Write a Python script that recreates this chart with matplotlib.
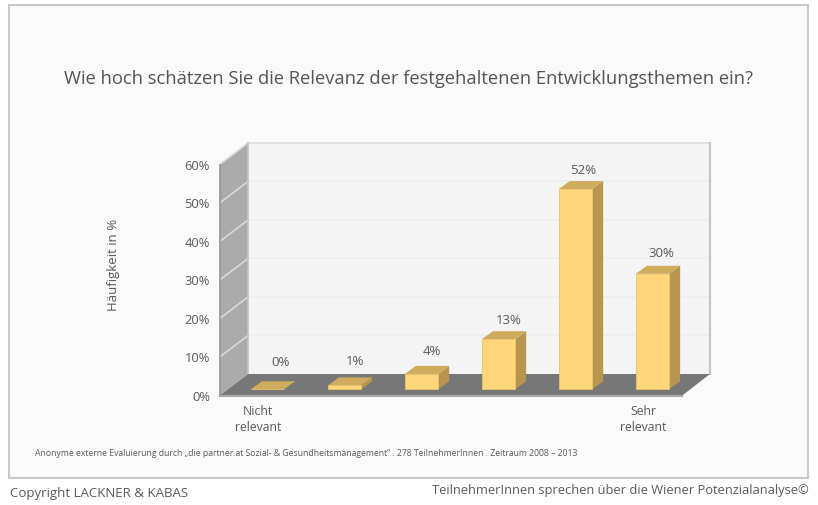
# 3D looking column chart, drawn with plain matplotlib patches
import matplotlib.pyplot as plt
from matplotlib.patches import Rectangle

plt.rcParams['font.family'] = ['Open Sans', 'DejaVu Sans']

# data
categories = ["Nicht\nrelevant", "", "", "", "", "Sehr\nrelevant"]
values = [0, 1, 4, 13, 52, 30]
value_labels = ["0%", "1%", "4%", "13%", "52%", "30%"]
y_ticks = [0, 10, 20, 30, 40, 50, 60]
y_tick_labels = ["0%", "10%", "20%", "30%", "40%", "50%", "60%"]

title = "Wie hoch schätzen Sie die Relevanz der festgehaltenen Entwicklungsthemen ein?"
y_title = "Häufigkeit in %"
note = ("Anonyme externe Evaluierung durch „die partner.at Sozial- & Gesundheitsmanagement“ . "
        "278 TeilnehmerInnen . Zeitraum 2008 – 2013")
copyright_text = "Copyright LACKNER & KABAS"
slogan = "TeilnehmerInnen sprechen über die Wiener Potenzialanalyse©"

TEXT = "#5A5A5A"
BAR_FRONT = "#FFD679"
BAR_SIDE = "#B8964F"
BAR_TOP = "#CFAB5C"

# the value labels are not placed evenly in the original (pixels from bar centre / bar top)
label_dx = [13.5, 10.5, 10, 10, 8, 9]
label_dy = [27, 23.5, 22, 19, 19, 20.7]

fig = plt.figure(figsize=(8.18, 5.05), dpi=100, facecolor="white")

# outer panel
fig.add_artist(Rectangle((8.5 / 818, 1 - 477.5 / 505), 799.5 / 818, 472.5 / 505,
                         transform=fig.transFigure, facecolor="#FAFAFA",
                         edgecolor="#C9C9C9", linewidth=1.5, zorder=-1))

# axes fills the figure, x = category number, y = percent
ax = fig.add_axes([0, 0, 1, 1])
ax.set_xlim(-267.5 / 77, 550.5 / 77)
ax.set_ylim(-30.05, 101.1)
ax.axis("off")

# wall corners in axis units
x_front, x_back = -0.623, -0.253
x_back_r, x_front_r = 5.747, 5.383
y_front, y_back = -1.66, 3.97

# back wall, side wall, floor
ax.fill([x_back, x_back_r, x_back_r, x_back], [y_back, y_back, y_back + 60, y_back + 60],
        color="#F4F4F4", zorder=1, linewidth=0)
ax.fill([x_front, x_back, x_back, x_front], [y_front, y_back, y_back + 60, y_front + 60],
        color="#ABABAB", zorder=1, linewidth=0)
ax.fill([x_front, x_back, x_back_r, x_front_r], [y_front, y_back, y_back, y_front],
        color="#777777", zorder=2, linewidth=0)

# gridlines
for t in y_ticks[1:]:
    ax.plot([x_back, x_back_r], [y_back + t, y_back + t], color="#EDEDED", lw=1.2, zorder=1.5)
    ax.plot([x_front, x_back], [y_front + t, y_back + t], color="#D9D9D9", lw=1.2, zorder=1.5)

# wall edges
ax.plot([x_back, x_back_r], [y_back + 60, y_back + 60], color="#DEDEDE", lw=1.2, zorder=1.55)
ax.plot([x_back, x_back], [y_back, y_back + 60], color="#C4C4C4", lw=1.2, zorder=1.6)
ax.plot([x_back_r, x_back_r], [y_back, y_back + 60], color="#C4C4C4", lw=1.5, zorder=1.6)
ax.plot([x_front, x_front], [y_front, y_front + 60], color="#9A9A9A", lw=1.2, zorder=1.6)
ax.plot([x_front, x_front_r], [y_front, y_front], color="#A8A8A8", lw=1.5, zorder=2.1)

# bars
width = 33.3 / 77
dx = 11 / 77
dy = 8 / 3.85
for i, v in enumerate(values):
    left = i - width / 2
    right = i + width / 2
    ax.fill([right, right + dx, right + dx, right], [0, dy, v + dy, v],
            color=BAR_SIDE, zorder=3, linewidth=0)
    ax.fill([left, left + dx, right + dx, right], [v, v + dy, v + dy, v],
            color=BAR_TOP, zorder=3, linewidth=0)
    ax.text(i + label_dx[i] / 77, v + label_dy[i] / 3.85, value_labels[i], ha="center", va="center",
            fontsize=9.5, color=TEXT, zorder=5)
ax.bar(range(len(values)), values, width=width, color=BAR_FRONT, edgecolor="#EBC26C",
       linewidth=0.6, zorder=4)

# y tick labels
for t, lab in zip(y_ticks, y_tick_labels):
    ax.text(x_front - 0.125, y_front + t - 0.4, lab, ha="right", va="center", fontsize=9.3, color=TEXT)

# category labels
for i, lab in enumerate(categories):
    if lab:
        ax.text(i - 0.12 if i == 0 else i - 0.122, -4.1, lab, ha="center", va="top",
                fontsize=8.8, color=TEXT, linespacing=1.25)

# texts in figure pixels
fig.text(408 / 818, 1 - 79.5 / 505, title, ha="center", va="center", fontsize=13.25, color="#555555")
fig.text(113 / 818, 1 - 265 / 505, y_title, ha="center", va="center", rotation=90,
         fontsize=9.5, color=TEXT)
fig.text(35 / 818, 1 - 453 / 505, note, ha="left", va="center", fontsize=6.23, color=TEXT)
fig.text(10 / 818, 1 - 493.5 / 505, copyright_text, ha="left", va="center", fontsize=9.5, color=TEXT)
fig.text(809 / 818, 1 - 490.5 / 505, slogan, ha="right", va="center", fontsize=9.3, color=TEXT)

fig.savefig("out.png", dpi=100)
